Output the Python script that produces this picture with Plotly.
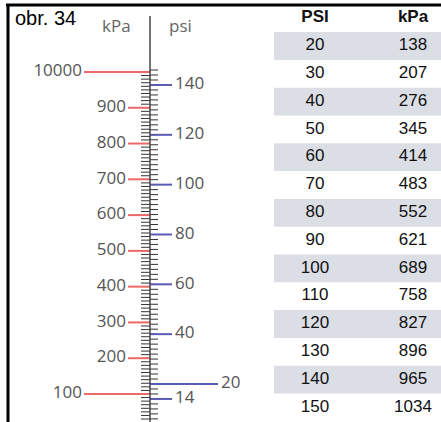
import numpy as np
import plotly.graph_objects as go

# gauge scale (kPa on the left, psi on the right)
kpa_major = [100, 200, 300, 400, 500, 600, 700, 800, 900, 1000]
kpa_labels = ['100', '200', '300', '400', '500', '600', '700', '800', '900', '10000']
psi_major = [14, 20, 40, 60, 80, 100, 120, 140]
psi_labels = ['14', '20', '40', '60', '80', '100', '120', '140']

# conversion table
table_psi = [20, 30, 40, 50, 60, 70, 80, 90, 100, 110, 120, 130, 140, 150]
table_kpa = [138, 207, 276, 345, 414, 483, 552, 621, 689, 758, 827, 896, 965, 1034]

W, H = 441, 422
RED = '#ee6a6a'
BLUE = '#5b5bb5'
GREY = '#555555'
AXIS_X = 150


def seg(x0, x1, values):
    xs, ys = [], []
    for v in values:
        xs += [x0, x1, None]
        ys += [v, v, None]
    return xs, ys


fig = go.Figure()

# minor ticks
kpa_minor = np.arange(30, 1001, 10)
xs, ys = seg(141, AXIS_X, kpa_minor)
fig.add_trace(go.Scatter(x=xs, y=ys, mode='lines', line=dict(color='#333333', width=1), yaxis='y'))
psi_minor = np.arange(6, 148, 2)
xs, ys = seg(AXIS_X, 158, psi_minor)
fig.add_trace(go.Scatter(x=xs, y=ys, mode='lines', line=dict(color='#333333', width=1), yaxis='y2'))

# kPa major ticks
long_kpa = [k for k in kpa_major if k in (100, 1000)]
short_kpa = [k for k in kpa_major if k not in (100, 1000)]
xs, ys = seg(128, AXIS_X, short_kpa)
fig.add_trace(go.Scatter(x=xs, y=ys, mode='lines', line=dict(color=RED, width=2), yaxis='y'))
xs, ys = seg(84, AXIS_X, long_kpa)
fig.add_trace(go.Scatter(x=xs, y=ys, mode='lines', line=dict(color=RED, width=2), yaxis='y'))
fig.add_trace(go.Scatter(
    x=[82 if k in (100, 1000) else 126 for k in kpa_major], y=kpa_major, text=kpa_labels,
    mode='text', textposition='middle left', yaxis='y',
    textfont=dict(family='Open Sans', size=17, color=GREY),
))

# psi major ticks
short_psi = [p for p in psi_major if p != 20]
xs, ys = seg(AXIS_X, 172, short_psi)
fig.add_trace(go.Scatter(x=xs, y=ys, mode='lines', line=dict(color=BLUE, width=2), yaxis='y2'))
xs, ys = seg(AXIS_X, 218, [20])
fig.add_trace(go.Scatter(x=xs, y=ys, mode='lines', line=dict(color=BLUE, width=2), yaxis='y2'))
fig.add_trace(go.Scatter(
    x=[221 if p == 20 else 175 for p in psi_major], y=psi_major, text=psi_labels,
    mode='text', textposition='middle right', yaxis='y2',
    textfont=dict(family='Open Sans', size=17, color=GREY),
))

# table
rows = list(range(len(table_psi)))
for i in rows[::2]:
    fig.add_shape(type='rect', xref='x', yref='y3', x0=274, x1=W, y0=i - 0.5, y1=i + 0.5,
                  fillcolor='#dcdee6', line_width=0, layer='below')
fig.add_trace(go.Scatter(x=[315] * len(rows), y=rows, text=[str(v) for v in table_psi], mode='text',
                         yaxis='y3', textfont=dict(family='Liberation Sans', size=17, color='#111111')))
fig.add_trace(go.Scatter(x=[413] * len(rows), y=rows, text=[str(v) for v in table_kpa], mode='text',
                         yaxis='y3', textfont=dict(family='Liberation Sans', size=17, color='#111111')))
fig.add_trace(go.Scatter(x=[315, 413], y=[-1, -1], text=['<b>PSI</b>', '<b>kPa</b>'], mode='text',
                         yaxis='y3', textfont=dict(family='Liberation Sans', size=17, color='#111111')))

# gauge spine and frame
fig.add_shape(type='line', xref='x', yref='paper', x0=AXIS_X, x1=AXIS_X, y0=0, y1=1 - 16 / H,
              line=dict(color='#444444', width=1.5))
fig.add_shape(type='line', xref='paper', yref='paper', x0=6 / W, x1=1, y0=1 - 5 / H, y1=1 - 5 / H,
              line=dict(color='black', width=3))
fig.add_shape(type='line', xref='paper', yref='paper', x0=8 / W, x1=8 / W, y0=0, y1=1 - 4 / H,
              line=dict(color='black', width=3))

fig.add_annotation(x=13, y=1 - 18 / H, xref='x', yref='paper', text='obr. 34', showarrow=False,
                   xanchor='left', yanchor='middle', font=dict(family='Liberation Sans', size=20, color='black'))
fig.add_annotation(x=116, y=1 - 25 / H, xref='x', yref='paper', text='kPa', showarrow=False,
                   yanchor='middle', font=dict(family='Open Sans', size=17, color='#666666'))
fig.add_annotation(x=180, y=1 - 25 / H, xref='x', yref='paper', text='psi', showarrow=False,
                   yanchor='middle', font=dict(family='Open Sans', size=17, color='#666666'))

hidden = dict(visible=False, showgrid=False, zeroline=False)
fig.update_layout(
    width=W, height=H, margin=dict(l=0, r=0, t=0, b=0),
    paper_bgcolor='white', plot_bgcolor='white', showlegend=False,
    xaxis=dict(range=[0, W], **hidden),
    yaxis=dict(range=[21.7, 1201.2], **hidden),
    yaxis2=dict(range=[4.75, 174.1], overlaying='y', **hidden),
    yaxis3=dict(range=[13.525, -1.655], overlaying='y', **hidden),
    hovermode=False,
)

fig.write_html('out.html', config={'displayModeBar': False},
               post_script="document.body.style.margin='0';")
